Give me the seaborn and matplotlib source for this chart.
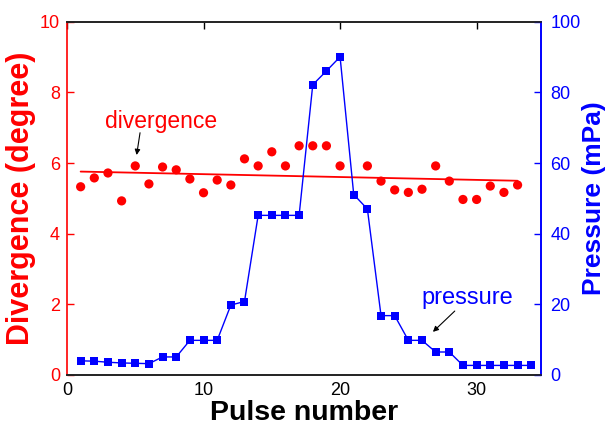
import matplotlib
matplotlib.use("Agg")
import matplotlib.pyplot as plt
import seaborn as sns
import pandas as pd

# ---- data ----
div_pulse = [1, 2, 3, 4, 5, 6, 7, 8, 9, 10, 11, 12, 13, 14, 15, 16, 17, 18, 19, 20,
             22, 23, 24, 25, 26, 27, 28, 29, 30, 31, 32, 33]
divergence = [5.33, 5.58, 5.72, 4.93, 5.92, 5.41, 5.89, 5.81, 5.55, 5.16, 5.52, 5.38,
              6.12, 5.92, 6.32, 5.92, 6.49, 6.49, 6.49, 5.92,
              5.92, 5.49, 5.24, 5.17, 5.26, 5.92, 5.49, 4.97, 4.97, 5.35, 5.17, 5.38]
fit_pulse = [1, 33]
fit_div = [5.76, 5.50]
pr_pulse = list(range(1, 35))
pressure = [4.0, 3.9, 3.6, 3.4, 3.3, 3.2, 5.1, 5.1, 9.8, 9.8, 9.8, 19.8, 20.8,
            45.2, 45.2, 45.2, 45.2, 82.2, 86.1, 90.1, 51.1, 47.0, 16.8, 16.8,
            9.8, 9.8, 6.5, 6.5, 2.7, 2.7, 2.7, 2.7, 2.7, 2.7]
x_ticks = [0, 10, 20, 30]
left_ticks = [0, 2, 4, 6, 8, 10]
right_ticks = [0, 20, 40, 60, 80, 100]

sns.set_style("white")
plt.rcParams['font.family'] = ['Liberation Sans', 'DejaVu Sans']

RED = "#ff0000"
BLUE = "#0000ff"

fig = plt.figure(figsize=(6.09, 4.29), dpi=100)
ax = fig.add_axes([0.110, 0.126, 0.778, 0.823])
ax2 = ax.twinx()

df_div = pd.DataFrame({"pulse": div_pulse, "div": divergence})
df_fit = pd.DataFrame({"pulse": fit_pulse, "div": fit_div})
df_pr = pd.DataFrame({"pulse": pr_pulse, "p": pressure})

sns.lineplot(data=df_fit, x="pulse", y="div", ax=ax, color=RED, linewidth=1.3)
sns.scatterplot(data=df_div, x="pulse", y="div", ax=ax, color=RED, s=44,
                edgecolor="none", marker="o", zorder=3)
sns.lineplot(data=df_pr, x="pulse", y="p", ax=ax2, color=BLUE, linewidth=1.0,
             marker="s", markersize=5.5, markeredgewidth=0, markerfacecolor=BLUE)

ax.set_xlim(0, 34.7)
ax.set_ylim(0, 10)
ax2.set_ylim(0, 100)
ax.set_xticks(x_ticks)
ax.set_yticks(left_ticks)
ax2.set_yticks(right_ticks)

ax.set_xlabel("Pulse number", fontsize=20.5, fontweight="bold", color="black", labelpad=1)
ax.set_ylabel("Divergence (degree)", fontsize=22, fontweight="bold", color=RED, labelpad=3)
ax2.set_ylabel("Pressure (mPa)", fontsize=19, fontweight="bold", color=BLUE, labelpad=1)

ax.tick_params(axis="x", direction="in", length=5, width=1, labelsize=13,
               colors="black", top=True, pad=5)
ax.tick_params(axis="y", direction="in", length=5, width=1, labelsize=13,
               colors=RED, pad=5)
ax2.tick_params(axis="y", direction="in", length=5, width=1, labelsize=13,
                colors=BLUE, pad=7)

for a in (ax, ax2):
    a.spines["top"].set_color("#222222")
    a.spines["bottom"].set_color("#222222")
    a.spines["left"].set_color(RED)
    a.spines["right"].set_color(BLUE)
    for s in a.spines.values():
        s.set_linewidth(1.2)
        s.set_visible(True)
ax2.spines["left"].set_visible(False)

ax.text(6.9, 7.17, "divergence", color=RED, fontsize=16.5, ha="center", va="center")
ax.annotate("", xy=(5.1, 6.23), xytext=(5.35, 6.86),
            arrowprops=dict(arrowstyle="-|>", color="black", lw=0.8,
                            mutation_scale=8, shrinkA=0, shrinkB=0))
ax2.text(29.3, 21.8, "pressure", color=BLUE, fontsize=17, ha="center", va="center")
ax2.annotate("", xy=(26.8, 12.2), xytext=(28.4, 18.1),
             arrowprops=dict(arrowstyle="-|>", color="black", lw=0.8,
                             mutation_scale=8, shrinkA=0, shrinkB=0))

fig.savefig("out.png", dpi=100)
